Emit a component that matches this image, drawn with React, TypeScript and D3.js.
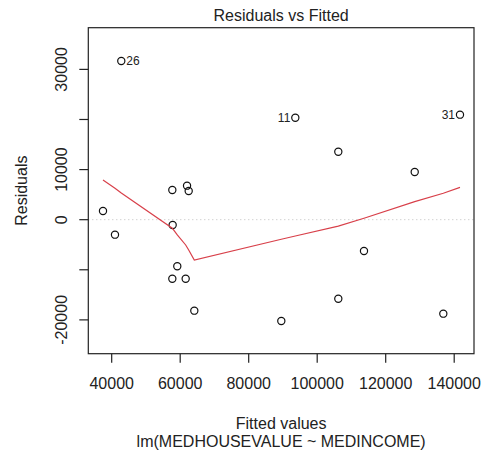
import { useEffect, useRef } from "react";
import * as d3 from "d3";

// fitted values and residuals
const FITTED = [37460, 40960, 42800, 57700, 61600, 57800, 59150, 57700, 62000, 62480, 64120, 89520, 93610, 106160, 106160, 113660, 128470, 136820, 141690];
const RESIDUALS = [1740, -2990, 31680, 5930, -11780, -1060, -9300, -11780, 6790, 5730, -18160, -20220, 20360, -15770, 13570, -6250, 9520, -18760, 20960];
// observation ids labelled on the plot (index into the arrays above)
const LABELLED = [
  { idx: 2, label: "26" },
  { idx: 12, label: "11" },
  { idx: 18, label: "31" },
];

// lowess smooth, evaluated at the sorted fitted values
const SMOOTH_X = [37460, 40960, 42800, 57700, 57800, 59150, 61600, 62000, 62480, 64120, 89520, 93610, 106160, 113660, 128470, 136820, 141690];
const SMOOTH_Y = [7920, 6270, 5330, -1700, -1800, -3050, -5050, -5510, -6050, -8040, -3900, -3250, -1300, 280, 3600, 5270, 6450];

const X_TICKS = [40000, 60000, 80000, 100000, 120000, 140000];
const Y_TICKS = [-20000, -10000, 0, 10000, 20000, 30000];
const Y_TICK_LABELS = [-20000, 0, 10000, 30000]; // R drops the ones that would overlap

const W = 487, H = 453;
const FONT = "'Liberation Sans', Arial, Helvetica, sans-serif";

export default function App() {
  const ref = useRef<SVGSVGElement>(null);

  useEffect(() => {
    const svg = d3.select(ref.current);
    svg.selectAll("*").remove();

    const left = 88.3, right = 474, top = 27.7, bottom = 353.7;
    const x = d3.scaleLinear().domain([33170, 145780]).range([left, right]);
    const y = d3.scaleLinear().domain([-26750, 38320]).range([bottom, top]);

    svg.append("rect").attr("width", W).attr("height", H).attr("fill", "#fff");

    // zero reference line
    svg.append("line")
      .attr("x1", left).attr("x2", right)
      .attr("y1", y(0)).attr("y2", y(0))
      .attr("stroke", "#bebebe")
      .attr("stroke-dasharray", "1,3");

    // points
    svg.selectAll("circle.pt")
      .data(FITTED.map((f, i) => ({ f, r: RESIDUALS[i] })))
      .join("circle")
      .attr("class", "pt")
      .attr("cx", d => x(d.f))
      .attr("cy", d => y(d.r))
      .attr("r", 3.6)
      .attr("fill", "none")
      .attr("stroke", "#111")
      .attr("stroke-width", 1.2);

    // smoother
    const line = d3.line<number>()
      .x((_, i) => x(SMOOTH_X[i]))
      .y(d => y(d));
    svg.append("path")
      .attr("d", line(SMOOTH_Y))
      .attr("fill", "none")
      .attr("stroke", "#d8404a")
      .attr("stroke-width", 1.2);

    // point labels: left half to the right, right half to the left
    const midX = (d3.min(FITTED)! + d3.max(FITTED)!) / 2;
    svg.selectAll("text.lab")
      .data(LABELLED)
      .join("text")
      .attr("class", "lab")
      .attr("x", d => FITTED[d.idx] < midX ? x(FITTED[d.idx]) + 5 : x(FITTED[d.idx]) - 5)
      .attr("y", d => y(RESIDUALS[d.idx]) + 4.3)
      .attr("text-anchor", d => FITTED[d.idx] < midX ? "start" : "end")
      .attr("font-family", FONT)
      .attr("font-size", 12)
      .attr("fill", "#222")
      .text(d => d.label);

    // box
    svg.append("rect")
      .attr("x", left).attr("y", top)
      .attr("width", right - left).attr("height", bottom - top)
      .attr("fill", "none").attr("stroke", "#222").attr("stroke-width", 1.2);

    // x axis
    const xa = svg.append("g");
    xa.selectAll("line")
      .data(X_TICKS)
      .join("line")
      .attr("x1", d => x(d)).attr("x2", d => x(d))
      .attr("y1", bottom).attr("y2", bottom + 9)
      .attr("stroke", "#222").attr("stroke-width", 1.2);
    xa.selectAll("text")
      .data(X_TICKS)
      .join("text")
      .attr("x", d => x(d))
      .attr("y", 389)
      .attr("text-anchor", "middle")
      .attr("font-family", FONT)
      .attr("font-size", 16)
      .attr("fill", "#222")
      .text(d => String(d));

    // y axis
    const ya = svg.append("g");
    ya.selectAll("line")
      .data(Y_TICKS)
      .join("line")
      .attr("x1", left - 9).attr("x2", left)
      .attr("y1", d => y(d)).attr("y2", d => y(d))
      .attr("stroke", "#222").attr("stroke-width", 1.2);
    ya.selectAll("text")
      .data(Y_TICK_LABELS)
      .join("text")
      .attr("transform", d => `translate(67,${y(d)}) rotate(-90)`)
      .attr("text-anchor", "middle")
      .attr("font-family", FONT)
      .attr("font-size", 16)
      .attr("fill", "#222")
      .text(d => String(d));

    // titles
    const cx = (left + right) / 2;
    const title = (txt: string, yy: number) =>
      svg.append("text")
        .attr("x", cx).attr("y", yy)
        .attr("text-anchor", "middle")
        .attr("font-family", FONT).attr("font-size", 16)
        .attr("fill", "#222")
        .text(txt);
    title("Residuals vs Fitted", 20.5);
    title("Fitted values", 429);
    title("lm(MEDHOUSEVALUE ~ MEDINCOME)", 447);
    svg.append("text")
      .attr("transform", `translate(27,${(top + bottom) / 2}) rotate(-90)`)
      .attr("text-anchor", "middle")
      .attr("font-family", FONT).attr("font-size", 16)
      .attr("fill", "#222")
      .text("Residuals");
  }, []);

  return (
    <svg
      ref={ref}
      width={W}
      height={H}
      style={{ position: "absolute", left: 0, top: 0 }}
    />
  );
}
